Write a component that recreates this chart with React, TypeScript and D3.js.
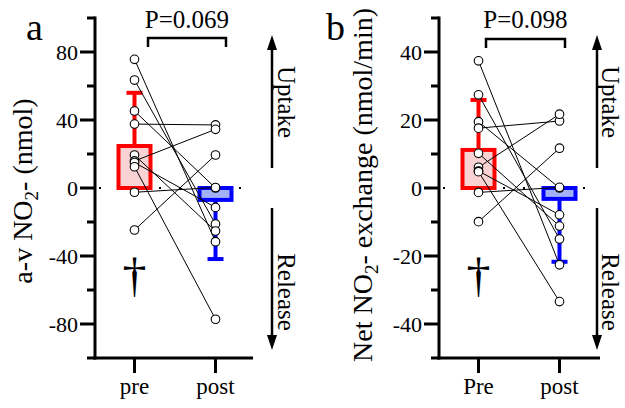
import React from 'react';
import * as d3 from 'd3';

// groups on the x axis
const groupsA = ['pre', 'post'];
const groupsB = ['Pre', 'post'];

// panel a: a-v NO2- (nmol), one entry per subject (pre[i] -> post[i])
const aPre = [75.7, 63.5, 45.3, 37.6, 19.4, 15.9, 15.0, 12.5, -2.5, -24.7];
const aPost = [-31.6, -21.2, 0.0, 37.1, -25.3, 34.5, -11.4, -77.2, 0.3, 19.4];
const aMean = [24.7, -7.0];
const aSD = [31.3, 34.8];
const aMajor = [-80, -40, 0, 40, 80];
const aMinor = [-100, -60, -20, 20, 60, 100];

// panel b: net NO2- exchange (nmol/min)
const bPre = [37.4, 27.4, 19.5, 17.6, 10.2, 6.1, 5.0, 4.8, -1.3, -9.9];
const bPost = [-22.6, -15.0, 0.0, 19.7, -11.2, 21.7, -7.9, -33.4, 0.2, 11.7];
const bMean = [11.2, -3.2];
const bSD = [14.7, 18.5];
const bMajor = [-40, -20, 0, 20, 40];
const bMinor = [-50, -30, -10, 10, 30, 50];

const pValues = ['P=0.069', 'P=0.098'];

const FONT = '"Liberation Serif", "Times New Roman", serif';
const RED = '#ff0000';
const PINK = '#f9d2d3';
const BLUE = '#0000ff';
const LIGHTBLUE = '#a3b1f6';

const TOP = 18;
const BOTTOM = 358;

type Cfg = {
  letter: string;
  letterX: number;
  groups: string[];
  pre: number[];
  post: number[];
  mean: number[];
  sd: number[];
  domain: [number, number];
  major: number[];
  minor: number[];
  axisX: number;
  axisEnd: number;
  p: string;
  bracket: [number, number, number];
  arrowX: number;
  textX: number;
  labelX: number;
  labelY: number;
  label: React.ReactNode;
};

function Panel({ cfg }: { cfg: Cfg }) {
  const y = d3.scaleLinear().domain(cfg.domain).range([BOTTOM, TOP]);
  const x = d3
    .scalePoint<string>()
    .domain(cfg.groups)
    .range([cfg.axisX + 39.5, cfg.axisX + 120.5]);
  const colors = [RED, BLUE];
  const fills = [PINK, LIGHTBLUE];
  const boxW = 32;
  const capW = 16;
  const [bx1, bx2, by] = cfg.bracket;
  const y0 = y(0);
  const ax = cfg.arrowX;

  return (
    <g>
      <text x={cfg.letterX} y={40} fontSize={38} fontFamily={FONT}>
        {cfg.letter}
      </text>

      {/* y axis */}
      <line x1={cfg.axisX} x2={cfg.axisX} y1={TOP - 1.5} y2={BOTTOM + 1.5} stroke="#000" strokeWidth={3} />
      {cfg.major.map((t) => (
        <g key={'M' + t}>
          <line x1={cfg.axisX - 15} x2={cfg.axisX} y1={y(t)} y2={y(t)} stroke="#000" strokeWidth={3} />
          <text
            x={cfg.axisX - 17}
            y={y(t)}
            dy="0.35em"
            textAnchor="end"
            fontSize={22}
            fontFamily={FONT}
          >
            {t}
          </text>
        </g>
      ))}
      {cfg.minor.map((t) => (
        <line key={'m' + t} x1={cfg.axisX - 8} x2={cfg.axisX} y1={y(t)} y2={y(t)} stroke="#000" strokeWidth={3} />
      ))}

      {/* x axis */}
      <line x1={cfg.axisX - 1.5} x2={cfg.axisEnd} y1={BOTTOM} y2={BOTTOM} stroke="#000" strokeWidth={3} />
      {cfg.groups.map((g) => (
        <g key={g}>
          <line x1={x(g)} x2={x(g)} y1={BOTTOM} y2={BOTTOM + 15} stroke="#000" strokeWidth={3} />
          <text x={x(g)} y={394} textAnchor="middle" fontSize={23} fontFamily={FONT}>
            {g}
          </text>
        </g>
      ))}

      {/* y axis title */}
      <text
        transform={`translate(${cfg.labelX},${cfg.labelY}) rotate(-90)`}
        textAnchor="middle"
        fontSize={28}
        fontFamily={FONT}
      >
        {cfg.label}
      </text>

      {/* dotted zero line */}
      <line
        x1={cfg.axisX + 4}
        x2={cfg.axisEnd}
        y1={y0}
        y2={y0}
        stroke="#000"
        strokeWidth={2}
        strokeDasharray="2 18"
      />

      {/* mean bars */}
      {cfg.groups.map((g, i) => {
        const ym = y(cfg.mean[i]);
        return (
          <rect
            key={'bar' + g}
            x={(x(g) as number) - boxW / 2}
            y={Math.min(ym, y0)}
            width={boxW}
            height={Math.abs(ym - y0)}
            fill={fills[i]}
            stroke={colors[i]}
            strokeWidth={4}
          />
        );
      })}
      {/* SD error bars */}
      {cfg.groups.map((g, i) => {
        const m = cfg.mean[i];
        const end = m >= 0 ? m + cfg.sd[i] : m - cfg.sd[i];
        const cx = x(g) as number;
        return (
          <g key={'err' + g} stroke={colors[i]} strokeWidth={4}>
            <line x1={cx} x2={cx} y1={y(m)} y2={y(end)} />
            <line x1={cx - capW / 2} x2={cx + capW / 2} y1={y(end)} y2={y(end)} />
          </g>
        );
      })}

      {/* paired lines */}
      {cfg.pre.map((v, i) => (
        <line
          key={'l' + i}
          x1={x(cfg.groups[0])}
          x2={x(cfg.groups[1])}
          y1={y(v)}
          y2={y(cfg.post[i])}
          stroke="#000"
          strokeWidth={1}
        />
      ))}
      {cfg.pre.map((v, i) => (
        <circle key={'a' + i} cx={x(cfg.groups[0])} cy={y(v)} r={4.3} fill="#fff" stroke="#000" strokeWidth={1.1} />
      ))}
      {cfg.post.map((v, i) => (
        <circle key={'b' + i} cx={x(cfg.groups[1])} cy={y(v)} r={4.3} fill="#fff" stroke="#000" strokeWidth={1.1} />
      ))}

      {/* significance bracket */}
      <path
        d={`M${bx1},${by + 9}V${by}H${bx2}V${by + 9}`}
        fill="none"
        stroke="#000"
        strokeWidth={2.5}
      />
      <text x={(bx1 + bx2) / 2} y={28} textAnchor="middle" fontSize={25} fontFamily={FONT}>
        {cfg.p}
      </text>

      {/* dagger */}
      <text x={x(cfg.groups[0])} y={291} textAnchor="middle" fontSize={48} fontFamily={FONT}>
        †
      </text>

      {/* uptake / release arrows */}
      <line x1={ax} x2={ax} y1={168} y2={46} stroke="#000" strokeWidth={2.5} />
      <path d={`M${ax},35L${ax - 5},50L${ax + 5},50Z`} fill="#000" />
      <line x1={ax} x2={ax} y1={208} y2={339} stroke="#000" strokeWidth={2.5} />
      <path d={`M${ax},350L${ax - 5},335L${ax + 5},335Z`} fill="#000" />
      <text
        transform={`translate(${cfg.textX},102) rotate(90)`}
        textAnchor="middle"
        dy="0.35em"
        fontSize={25}
        fontFamily={FONT}
      >
        Uptake
      </text>
      <text
        transform={`translate(${cfg.textX},292) rotate(90)`}
        textAnchor="middle"
        dy="0.35em"
        fontSize={25}
        fontFamily={FONT}
      >
        Release
      </text>
    </g>
  );
}

const no2 = (
  <>
    NO
    <tspan dy={6} fontSize={19}>
      2
    </tspan>
    <tspan dy={-6}>-</tspan>
  </>
);

const panels: Cfg[] = [
  {
    letter: 'a',
    letterX: 26,
    groups: groupsA,
    pre: aPre,
    post: aPost,
    mean: aMean,
    sd: aSD,
    domain: [-100, 100],
    major: aMajor,
    minor: aMinor,
    axisX: 95,
    axisEnd: 253,
    p: pValues[0],
    bracket: [148, 226, 38],
    arrowX: 272,
    textX: 287,
    labelX: 32,
    labelY: 191,
    label: <>a-v {no2} (nmol)</>,
  },
  {
    letter: 'b',
    letterX: 326,
    groups: groupsB,
    pre: bPre,
    post: bPost,
    mean: bMean,
    sd: bSD,
    domain: [-50, 50],
    major: bMajor,
    minor: bMinor,
    axisX: 439,
    axisEnd: 600,
    p: pValues[1],
    bracket: [486, 565, 39],
    arrowX: 597,
    textX: 611,
    labelX: 372,
    labelY: 185,
    label: <>Net {no2} exchange (nmol/min)</>,
  },
];

export default function App() {
  return (
    <svg
      width={625}
      height={408}
      style={{ position: 'absolute', left: 0, top: 0, background: '#fff' }}
    >
      {panels.map((p) => (
        <Panel key={p.letter} cfg={p} />
      ))}
    </svg>
  );
}
